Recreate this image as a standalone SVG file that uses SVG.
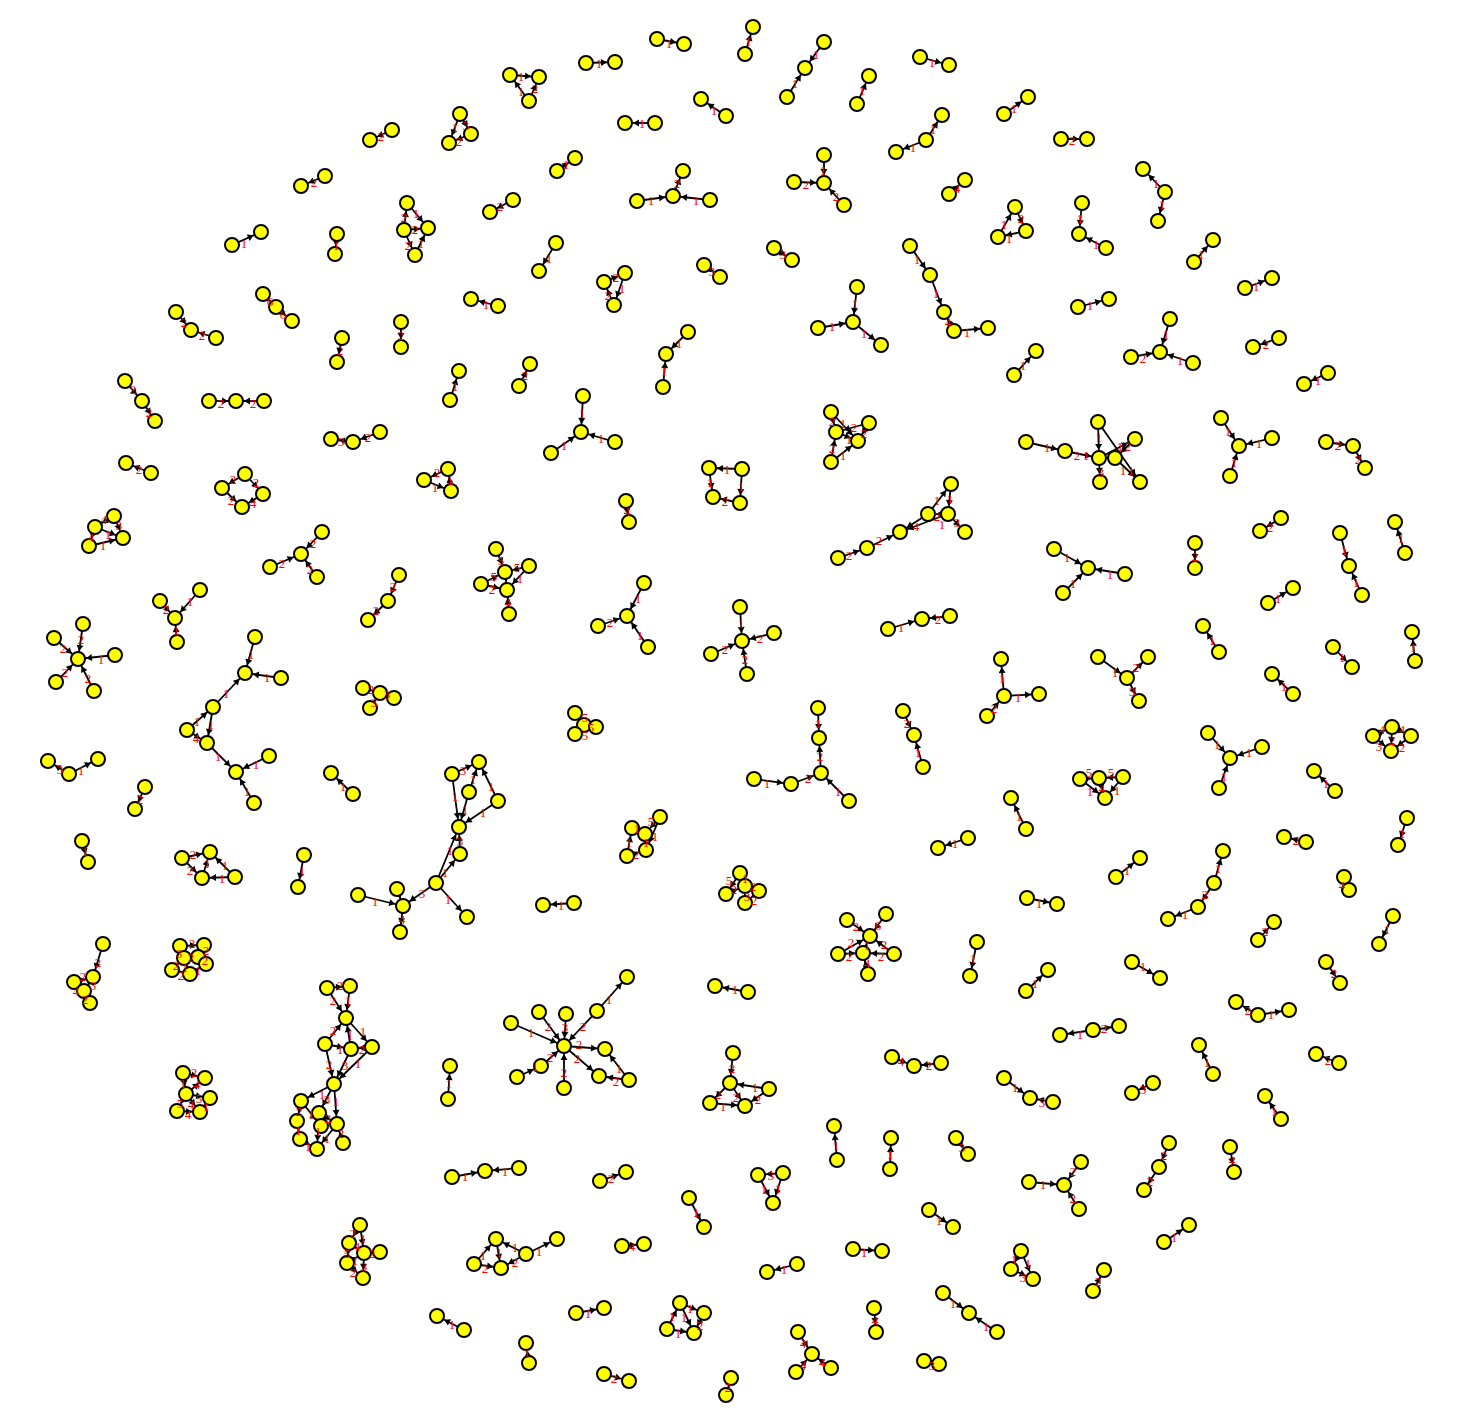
<svg xmlns="http://www.w3.org/2000/svg" width="1469" height="1424" viewBox="0 0 1469 1424">
<style>
#edges line{stroke:#000;stroke-width:1.8;marker-end:url(#ah)}
#nodes circle{fill:#ffff00;stroke:#000;stroke-width:2}
#labels text{font-family:"Liberation Serif",serif;font-size:13px;fill:#ff0000;text-anchor:middle;dominant-baseline:central}
</style>
<defs>
<marker id="ah" markerUnits="userSpaceOnUse" orient="auto" overflow="visible" refX="0" refY="0" markerWidth="1" markerHeight="1"><path d="M-14,-3.5L-8,0L-14,3.5z" fill="#000"/></marker>
</defs>
<rect width="1469" height="1424" fill="#fff"/>
<g id="edges">
<line x1="745" y1="54" x2="753" y2="27"/>
<line x1="657" y1="39" x2="684" y2="44"/>
<line x1="586" y1="63" x2="615" y2="62"/>
<line x1="510" y1="75" x2="539" y2="77"/><line x1="529" y1="101" x2="510" y2="75"/><line x1="529" y1="101" x2="539" y2="77"/>
<line x1="824" y1="42" x2="805" y2="68"/><line x1="787" y1="97" x2="805" y2="68"/>
<line x1="857" y1="104" x2="869" y2="76"/>
<line x1="920" y1="57" x2="949" y2="65"/>
<line x1="926" y1="140" x2="896" y2="152"/><line x1="926" y1="140" x2="942" y2="115"/>
<line x1="1004" y1="114" x2="1028" y2="97"/>
<line x1="1061" y1="139" x2="1087" y2="139"/>
<line x1="726" y1="116" x2="701" y2="99"/>
<line x1="655" y1="123" x2="625" y2="123"/>
<line x1="460" y1="114" x2="449" y2="143"/><line x1="460" y1="114" x2="471" y2="134"/><line x1="471" y1="134" x2="449" y2="143"/>
<line x1="392" y1="130" x2="370" y2="140"/>
<line x1="325" y1="176" x2="301" y2="186"/>
<line x1="557" y1="171" x2="575" y2="158"/>
<line x1="513" y1="200" x2="490" y2="212"/>
<line x1="637" y1="201" x2="673" y2="196"/><line x1="710" y1="200" x2="673" y2="196"/><line x1="673" y1="196" x2="683" y2="171"/>
<line x1="824" y1="155" x2="824" y2="183"/><line x1="794" y1="182" x2="824" y2="183"/><line x1="844" y1="205" x2="824" y2="183"/>
<line x1="949" y1="194" x2="965" y2="180"/>
<line x1="998" y1="237" x2="1015" y2="207"/><line x1="1015" y1="207" x2="1026" y2="231"/><line x1="1026" y1="231" x2="998" y2="237"/>
<line x1="1082" y1="203" x2="1079" y2="234"/><line x1="1106" y1="248" x2="1079" y2="234"/>
<line x1="1165" y1="192" x2="1143" y2="169"/><line x1="1165" y1="192" x2="1158" y2="221"/>
<line x1="1194" y1="262" x2="1213" y2="240"/>
<line x1="1245" y1="288" x2="1272" y2="278"/>
<line x1="1170" y1="319" x2="1160" y2="352"/><line x1="1131" y1="357" x2="1160" y2="352"/><line x1="1193" y1="363" x2="1160" y2="352"/>
<line x1="1279" y1="338" x2="1253" y2="347"/>
<line x1="1328" y1="373" x2="1304" y2="384"/>
<line x1="1026" y1="442" x2="1065" y2="451"/><line x1="1065" y1="451" x2="1099" y2="458"/><line x1="1098" y1="422" x2="1099" y2="458"/><line x1="1098" y1="422" x2="1140" y2="482"/><line x1="1135" y1="439" x2="1115" y2="458"/><line x1="1099" y1="458" x2="1135" y2="439"/><line x1="1115" y1="458" x2="1140" y2="482"/><line x1="1099" y1="458" x2="1100" y2="482"/><line x1="1099" y1="458" x2="1115" y2="458"/>
<line x1="1221" y1="418" x2="1239" y2="446"/><line x1="1272" y1="438" x2="1239" y2="446"/><line x1="1230" y1="476" x2="1239" y2="446"/>
<line x1="1326" y1="442" x2="1353" y2="446"/><line x1="1353" y1="446" x2="1365" y2="468"/>
<line x1="232" y1="245" x2="261" y2="232"/>
<line x1="337" y1="234" x2="335" y2="254"/>
<line x1="407" y1="203" x2="428" y2="228"/><line x1="404" y1="230" x2="407" y2="203"/><line x1="404" y1="230" x2="428" y2="228"/><line x1="415" y1="255" x2="428" y2="228"/><line x1="404" y1="230" x2="415" y2="255"/>
<line x1="263" y1="294" x2="276" y2="307"/><line x1="276" y1="307" x2="292" y2="321"/>
<line x1="176" y1="312" x2="191" y2="330"/><line x1="216" y1="338" x2="191" y2="330"/>
<line x1="342" y1="338" x2="337" y2="362"/>
<line x1="401" y1="322" x2="401" y2="347"/>
<line x1="498" y1="306" x2="471" y2="299"/>
<line x1="125" y1="381" x2="142" y2="401"/><line x1="142" y1="401" x2="155" y2="421"/>
<line x1="209" y1="401" x2="236" y2="401"/><line x1="264" y1="401" x2="236" y2="401"/>
<line x1="353" y1="442" x2="331" y2="439"/><line x1="380" y1="432" x2="353" y2="442"/>
<line x1="151" y1="473" x2="126" y2="463"/>
<line x1="245" y1="474" x2="222" y2="488"/><line x1="245" y1="474" x2="263" y2="494"/><line x1="222" y1="488" x2="242" y2="507"/><line x1="263" y1="494" x2="242" y2="507"/>
<line x1="114" y1="516" x2="95" y2="527"/><line x1="95" y1="527" x2="123" y2="538"/><line x1="114" y1="516" x2="123" y2="538"/><line x1="89" y1="546" x2="123" y2="538"/><line x1="95" y1="527" x2="89" y2="546"/>
<line x1="448" y1="469" x2="424" y2="480"/><line x1="424" y1="480" x2="451" y2="491"/><line x1="451" y1="491" x2="448" y2="469"/>
<line x1="626" y1="501" x2="629" y2="522"/>
<line x1="742" y1="469" x2="709" y2="468"/><line x1="709" y1="468" x2="713" y2="497"/><line x1="742" y1="469" x2="740" y2="503"/><line x1="740" y1="503" x2="713" y2="497"/>
<line x1="583" y1="396" x2="581" y2="432"/><line x1="551" y1="453" x2="581" y2="432"/><line x1="615" y1="442" x2="581" y2="432"/>
<line x1="450" y1="400" x2="459" y2="371"/>
<line x1="519" y1="386" x2="530" y2="364"/>
<line x1="688" y1="332" x2="666" y2="354"/><line x1="663" y1="387" x2="666" y2="354"/>
<line x1="604" y1="282" x2="625" y2="273"/><line x1="625" y1="273" x2="614" y2="305"/><line x1="614" y1="305" x2="604" y2="282"/>
<line x1="556" y1="243" x2="539" y2="271"/>
<line x1="704" y1="265" x2="720" y2="277"/>
<line x1="774" y1="248" x2="792" y2="260"/>
<line x1="857" y1="287" x2="853" y2="322"/><line x1="818" y1="328" x2="853" y2="322"/><line x1="853" y1="322" x2="881" y2="345"/>
<line x1="910" y1="246" x2="930" y2="275"/><line x1="930" y1="275" x2="944" y2="312"/><line x1="954" y1="331" x2="944" y2="312"/><line x1="954" y1="331" x2="988" y2="328"/>
<line x1="1078" y1="307" x2="1109" y2="299"/>
<line x1="1014" y1="375" x2="1036" y2="351"/>
<line x1="831" y1="412" x2="836" y2="432"/><line x1="831" y1="412" x2="858" y2="441"/><line x1="869" y1="423" x2="836" y2="432"/><line x1="869" y1="423" x2="858" y2="441"/><line x1="836" y1="432" x2="858" y2="441"/><line x1="831" y1="462" x2="836" y2="432"/><line x1="831" y1="462" x2="858" y2="441"/>
<line x1="322" y1="532" x2="301" y2="554"/><line x1="270" y1="567" x2="301" y2="554"/><line x1="317" y1="577" x2="301" y2="554"/>
<line x1="399" y1="575" x2="388" y2="601"/><line x1="388" y1="601" x2="368" y2="620"/>
<line x1="200" y1="590" x2="175" y2="618"/><line x1="160" y1="601" x2="175" y2="618"/><line x1="177" y1="642" x2="175" y2="618"/>
<line x1="83" y1="624" x2="78" y2="659"/><line x1="54" y1="638" x2="78" y2="659"/><line x1="115" y1="655" x2="78" y2="659"/><line x1="56" y1="682" x2="78" y2="659"/><line x1="94" y1="691" x2="78" y2="659"/>
<line x1="255" y1="637" x2="245" y2="673"/><line x1="281" y1="678" x2="245" y2="673"/><line x1="213" y1="707" x2="245" y2="673"/><line x1="187" y1="730" x2="213" y2="707"/><line x1="213" y1="707" x2="207" y2="743"/><line x1="187" y1="730" x2="207" y2="743"/><line x1="207" y1="743" x2="236" y2="772"/><line x1="269" y1="756" x2="236" y2="772"/><line x1="254" y1="803" x2="236" y2="772"/>
<line x1="69" y1="774" x2="48" y2="761"/><line x1="69" y1="774" x2="98" y2="759"/>
<line x1="145" y1="787" x2="135" y2="809"/>
<line x1="82" y1="841" x2="88" y2="862"/>
<line x1="353" y1="794" x2="331" y2="773"/>
<line x1="182" y1="858" x2="210" y2="852"/><line x1="182" y1="858" x2="202" y2="878"/><line x1="202" y1="878" x2="210" y2="852"/><line x1="235" y1="877" x2="202" y2="878"/><line x1="235" y1="877" x2="210" y2="852"/>
<line x1="304" y1="855" x2="298" y2="887"/>
<line x1="496" y1="549" x2="505" y2="572"/><line x1="529" y1="566" x2="505" y2="572"/><line x1="481" y1="584" x2="505" y2="572"/><line x1="481" y1="584" x2="507" y2="590"/><line x1="529" y1="566" x2="507" y2="590"/><line x1="509" y1="614" x2="507" y2="590"/><line x1="505" y1="572" x2="507" y2="590"/>
<line x1="644" y1="583" x2="627" y2="616"/><line x1="598" y1="626" x2="627" y2="616"/><line x1="648" y1="647" x2="627" y2="616"/>
<line x1="363" y1="688" x2="380" y2="693"/><line x1="394" y1="698" x2="380" y2="693"/><line x1="370" y1="708" x2="380" y2="693"/>
<line x1="575" y1="713" x2="584" y2="725"/><line x1="596" y1="727" x2="584" y2="725"/><line x1="575" y1="734" x2="584" y2="725"/>
<line x1="452" y1="774" x2="479" y2="762"/><line x1="452" y1="774" x2="459" y2="827"/><line x1="469" y1="792" x2="479" y2="762"/><line x1="498" y1="801" x2="479" y2="762"/><line x1="469" y1="792" x2="459" y2="827"/><line x1="498" y1="801" x2="459" y2="827"/><line x1="460" y1="854" x2="459" y2="827"/><line x1="436" y1="883" x2="459" y2="827"/><line x1="436" y1="883" x2="460" y2="854"/><line x1="436" y1="883" x2="467" y2="917"/><line x1="436" y1="883" x2="403" y2="906"/><line x1="358" y1="895" x2="403" y2="906"/><line x1="397" y1="889" x2="403" y2="906"/><line x1="403" y1="906" x2="400" y2="932"/>
<line x1="574" y1="903" x2="543" y2="905"/>
<line x1="632" y1="828" x2="645" y2="834"/><line x1="660" y1="817" x2="645" y2="834"/><line x1="660" y1="817" x2="646" y2="850"/><line x1="627" y1="856" x2="632" y2="828"/><line x1="627" y1="856" x2="646" y2="850"/><line x1="645" y1="834" x2="646" y2="850"/>
<line x1="740" y1="873" x2="745" y2="886"/><line x1="726" y1="894" x2="745" y2="886"/><line x1="745" y1="886" x2="759" y2="891"/><line x1="745" y1="886" x2="745" y2="903"/><line x1="740" y1="873" x2="726" y2="894"/><line x1="759" y1="891" x2="745" y2="903"/>
<line x1="740" y1="607" x2="742" y2="641"/><line x1="774" y1="633" x2="742" y2="641"/><line x1="747" y1="674" x2="742" y2="641"/><line x1="711" y1="654" x2="742" y2="641"/>
<line x1="928" y1="514" x2="951" y2="484"/><line x1="951" y1="484" x2="948" y2="514"/><line x1="948" y1="514" x2="928" y2="514"/><line x1="948" y1="514" x2="965" y2="532"/><line x1="948" y1="514" x2="900" y2="532"/><line x1="928" y1="514" x2="900" y2="532"/><line x1="867" y1="548" x2="900" y2="532"/><line x1="838" y1="558" x2="867" y2="548"/>
<line x1="888" y1="629" x2="922" y2="619"/><line x1="950" y1="616" x2="922" y2="619"/>
<line x1="818" y1="708" x2="819" y2="738"/><line x1="821" y1="773" x2="819" y2="738"/><line x1="791" y1="784" x2="821" y2="773"/><line x1="754" y1="779" x2="791" y2="784"/><line x1="849" y1="801" x2="821" y2="773"/>
<line x1="903" y1="711" x2="914" y2="735"/><line x1="923" y1="767" x2="914" y2="735"/>
<line x1="1004" y1="696" x2="1001" y2="659"/><line x1="1004" y1="696" x2="1039" y2="694"/><line x1="987" y1="716" x2="1004" y2="696"/>
<line x1="1026" y1="829" x2="1011" y2="798"/>
<line x1="968" y1="838" x2="938" y2="848"/>
<line x1="1027" y1="898" x2="1057" y2="904"/>
<line x1="1054" y1="549" x2="1088" y2="568"/><line x1="1063" y1="593" x2="1088" y2="568"/><line x1="1125" y1="574" x2="1088" y2="568"/>
<line x1="1195" y1="543" x2="1195" y2="568"/>
<line x1="1281" y1="518" x2="1260" y2="531"/>
<line x1="1340" y1="533" x2="1349" y2="566"/><line x1="1362" y1="595" x2="1349" y2="566"/>
<line x1="1405" y1="553" x2="1395" y2="522"/>
<line x1="1268" y1="603" x2="1293" y2="588"/>
<line x1="1219" y1="652" x2="1203" y2="626"/>
<line x1="1333" y1="647" x2="1352" y2="667"/>
<line x1="1415" y1="661" x2="1412" y2="632"/>
<line x1="1098" y1="657" x2="1127" y2="678"/><line x1="1127" y1="678" x2="1148" y2="657"/><line x1="1127" y1="678" x2="1139" y2="701"/>
<line x1="1293" y1="694" x2="1272" y2="674"/>
<line x1="1208" y1="733" x2="1230" y2="758"/><line x1="1262" y1="747" x2="1230" y2="758"/><line x1="1219" y1="788" x2="1230" y2="758"/>
<line x1="1373" y1="736" x2="1392" y2="727"/><line x1="1392" y1="727" x2="1411" y2="736"/><line x1="1373" y1="736" x2="1391" y2="751"/><line x1="1392" y1="727" x2="1391" y2="751"/><line x1="1411" y1="736" x2="1391" y2="751"/>
<line x1="1335" y1="791" x2="1314" y2="771"/>
<line x1="1407" y1="818" x2="1398" y2="845"/>
<line x1="1080" y1="779" x2="1099" y2="778"/><line x1="1123" y1="777" x2="1099" y2="778"/><line x1="1080" y1="779" x2="1105" y2="798"/><line x1="1123" y1="777" x2="1105" y2="798"/><line x1="1099" y1="778" x2="1105" y2="798"/>
<line x1="1306" y1="842" x2="1284" y2="837"/>
<line x1="1344" y1="877" x2="1349" y2="890"/>
<line x1="1116" y1="877" x2="1140" y2="858"/>
<line x1="1198" y1="907" x2="1168" y2="919"/><line x1="1214" y1="883" x2="1198" y2="907"/><line x1="1214" y1="883" x2="1223" y2="851"/>
<line x1="1258" y1="940" x2="1274" y2="922"/>
<line x1="1393" y1="916" x2="1379" y2="944"/>
<line x1="847" y1="920" x2="870" y2="936"/><line x1="886" y1="914" x2="870" y2="936"/><line x1="838" y1="954" x2="870" y2="936"/><line x1="863" y1="953" x2="870" y2="936"/><line x1="894" y1="954" x2="870" y2="936"/><line x1="868" y1="974" x2="863" y2="953"/><line x1="838" y1="954" x2="863" y2="953"/><line x1="894" y1="954" x2="863" y2="953"/>
<line x1="977" y1="942" x2="970" y2="976"/>
<line x1="1026" y1="991" x2="1048" y2="970"/>
<line x1="1132" y1="962" x2="1160" y2="978"/>
<line x1="1326" y1="962" x2="1340" y2="983"/>
<line x1="1258" y1="1015" x2="1236" y2="1002"/><line x1="1258" y1="1015" x2="1289" y2="1010"/>
<line x1="1093" y1="1030" x2="1060" y2="1035"/><line x1="1093" y1="1030" x2="1119" y2="1026"/>
<line x1="1213" y1="1074" x2="1199" y2="1045"/>
<line x1="1153" y1="1083" x2="1132" y2="1093"/>
<line x1="1339" y1="1063" x2="1316" y2="1054"/>
<line x1="1281" y1="1119" x2="1265" y2="1096"/>
<line x1="1004" y1="1078" x2="1030" y2="1098"/><line x1="1053" y1="1102" x2="1030" y2="1098"/>
<line x1="892" y1="1057" x2="914" y2="1066"/><line x1="941" y1="1063" x2="914" y2="1066"/>
<line x1="1081" y1="1162" x2="1064" y2="1185"/><line x1="1029" y1="1182" x2="1064" y2="1185"/><line x1="1079" y1="1209" x2="1064" y2="1185"/>
<line x1="837" y1="1160" x2="834" y2="1126"/>
<line x1="890" y1="1169" x2="891" y2="1138"/>
<line x1="956" y1="1138" x2="968" y2="1154"/>
<line x1="783" y1="1173" x2="758" y2="1175"/><line x1="758" y1="1175" x2="773" y2="1203"/><line x1="783" y1="1173" x2="773" y2="1203"/>
<line x1="929" y1="1210" x2="953" y2="1227"/>
<line x1="853" y1="1249" x2="882" y2="1251"/>
<line x1="797" y1="1264" x2="767" y2="1272"/>
<line x1="1021" y1="1251" x2="1033" y2="1279"/><line x1="1011" y1="1269" x2="1033" y2="1279"/><line x1="1021" y1="1251" x2="1011" y2="1269"/>
<line x1="1093" y1="1291" x2="1104" y2="1270"/>
<line x1="943" y1="1293" x2="969" y2="1313"/><line x1="997" y1="1332" x2="969" y2="1313"/>
<line x1="874" y1="1308" x2="876" y2="1332"/>
<line x1="798" y1="1332" x2="812" y2="1354"/><line x1="831" y1="1368" x2="812" y2="1354"/><line x1="796" y1="1372" x2="812" y2="1354"/>
<line x1="924" y1="1361" x2="939" y2="1364"/>
<line x1="1164" y1="1242" x2="1189" y2="1225"/>
<line x1="1230" y1="1147" x2="1234" y2="1172"/>
<line x1="1159" y1="1167" x2="1144" y2="1190"/><line x1="1169" y1="1143" x2="1159" y2="1167"/>
<line x1="103" y1="944" x2="93" y2="977"/><line x1="74" y1="982" x2="93" y2="977"/><line x1="74" y1="982" x2="84" y2="991"/><line x1="93" y1="977" x2="84" y2="991"/><line x1="84" y1="991" x2="90" y2="1003"/>
<line x1="180" y1="946" x2="204" y2="945"/><line x1="180" y1="946" x2="184" y2="958"/><line x1="198" y1="957" x2="204" y2="945"/><line x1="184" y1="958" x2="198" y2="957"/><line x1="184" y1="958" x2="172" y2="970"/><line x1="184" y1="958" x2="190" y2="974"/><line x1="198" y1="957" x2="206" y2="964"/><line x1="172" y1="970" x2="190" y2="974"/><line x1="190" y1="974" x2="206" y2="964"/>
<line x1="327" y1="988" x2="346" y2="1018"/><line x1="350" y1="986" x2="346" y2="1018"/><line x1="327" y1="988" x2="350" y2="986"/><line x1="325" y1="1044" x2="346" y2="1018"/><line x1="346" y1="1018" x2="372" y2="1047"/><line x1="325" y1="1044" x2="351" y2="1049"/><line x1="351" y1="1049" x2="346" y2="1018"/><line x1="372" y1="1047" x2="351" y2="1049"/><line x1="325" y1="1044" x2="334" y2="1084"/><line x1="351" y1="1049" x2="334" y2="1084"/><line x1="372" y1="1047" x2="334" y2="1084"/><line x1="334" y1="1084" x2="301" y2="1101"/><line x1="334" y1="1084" x2="319" y2="1113"/><line x1="334" y1="1084" x2="337" y2="1124"/><line x1="301" y1="1101" x2="297" y2="1121"/><line x1="301" y1="1101" x2="321" y2="1126"/><line x1="297" y1="1121" x2="300" y2="1139"/><line x1="319" y1="1113" x2="317" y2="1149"/><line x1="300" y1="1139" x2="317" y2="1149"/><line x1="343" y1="1143" x2="337" y2="1124"/><line x1="337" y1="1124" x2="317" y2="1149"/><line x1="319" y1="1113" x2="337" y2="1124"/>
<line x1="183" y1="1073" x2="205" y2="1078"/><line x1="183" y1="1073" x2="186" y2="1094"/><line x1="186" y1="1094" x2="205" y2="1078"/><line x1="186" y1="1094" x2="210" y2="1098"/><line x1="186" y1="1094" x2="177" y2="1111"/><line x1="186" y1="1094" x2="200" y2="1112"/><line x1="210" y1="1098" x2="200" y2="1112"/><line x1="177" y1="1111" x2="200" y2="1112"/>
<line x1="360" y1="1225" x2="349" y2="1243"/><line x1="360" y1="1225" x2="364" y2="1253"/><line x1="349" y1="1243" x2="364" y2="1253"/><line x1="349" y1="1243" x2="347" y2="1263"/><line x1="347" y1="1263" x2="364" y2="1253"/><line x1="364" y1="1253" x2="363" y2="1278"/><line x1="380" y1="1252" x2="364" y2="1253"/><line x1="347" y1="1263" x2="363" y2="1278"/>
<line x1="511" y1="1023" x2="564" y2="1046"/><line x1="539" y1="1012" x2="564" y2="1046"/><line x1="566" y1="1014" x2="564" y2="1046"/><line x1="597" y1="1011" x2="564" y2="1046"/><line x1="597" y1="1011" x2="627" y2="977"/><line x1="564" y1="1046" x2="605" y2="1049"/><line x1="564" y1="1046" x2="599" y2="1076"/><line x1="629" y1="1080" x2="605" y2="1049"/><line x1="629" y1="1080" x2="599" y2="1076"/><line x1="564" y1="1088" x2="564" y2="1046"/><line x1="541" y1="1066" x2="564" y2="1046"/><line x1="517" y1="1077" x2="541" y2="1066"/>
<line x1="448" y1="1099" x2="450" y2="1066"/>
<line x1="452" y1="1177" x2="485" y2="1171"/><line x1="519" y1="1168" x2="485" y2="1171"/>
<line x1="600" y1="1181" x2="626" y2="1172"/>
<line x1="689" y1="1198" x2="704" y2="1227"/>
<line x1="474" y1="1264" x2="496" y2="1239"/><line x1="496" y1="1239" x2="501" y2="1268"/><line x1="474" y1="1264" x2="501" y2="1268"/><line x1="526" y1="1254" x2="496" y2="1239"/><line x1="526" y1="1254" x2="501" y2="1268"/><line x1="526" y1="1254" x2="557" y2="1239"/>
<line x1="622" y1="1246" x2="644" y2="1244"/>
<line x1="464" y1="1330" x2="437" y2="1316"/>
<line x1="576" y1="1313" x2="604" y2="1308"/>
<line x1="529" y1="1363" x2="526" y2="1343"/>
<line x1="604" y1="1374" x2="629" y2="1381"/>
<line x1="731" y1="1378" x2="726" y2="1395"/>
<line x1="680" y1="1303" x2="704" y2="1313"/><line x1="667" y1="1329" x2="680" y2="1303"/><line x1="680" y1="1303" x2="694" y2="1333"/><line x1="667" y1="1329" x2="694" y2="1333"/><line x1="704" y1="1313" x2="694" y2="1333"/>
<line x1="733" y1="1053" x2="730" y2="1083"/><line x1="730" y1="1083" x2="710" y2="1103"/><line x1="710" y1="1103" x2="745" y2="1106"/><line x1="769" y1="1089" x2="730" y2="1083"/><line x1="769" y1="1089" x2="745" y2="1106"/><line x1="730" y1="1083" x2="745" y2="1106"/>
<line x1="748" y1="992" x2="715" y2="986"/>
</g>
<g id="nodes">
<g id="n1"><circle cx="753" cy="27" r="7"/></g><g id="n2"><circle cx="745" cy="54" r="7"/></g>
<g id="n3"><circle cx="657" cy="39" r="7"/></g><g id="n4"><circle cx="684" cy="44" r="7"/></g>
<g id="n5"><circle cx="586" cy="63" r="7"/></g><g id="n6"><circle cx="615" cy="62" r="7"/></g>
<g id="n7"><circle cx="510" cy="75" r="7"/></g><g id="n8"><circle cx="539" cy="77" r="7"/></g><g id="n9"><circle cx="529" cy="101" r="7"/></g>
<g id="n10"><circle cx="824" cy="42" r="7"/></g><g id="n11"><circle cx="805" cy="68" r="7"/></g><g id="n12"><circle cx="787" cy="97" r="7"/></g>
<g id="n13"><circle cx="869" cy="76" r="7"/></g><g id="n14"><circle cx="857" cy="104" r="7"/></g>
<g id="n15"><circle cx="920" cy="57" r="7"/></g><g id="n16"><circle cx="949" cy="65" r="7"/></g>
<g id="n17"><circle cx="896" cy="152" r="7"/></g><g id="n18"><circle cx="926" cy="140" r="7"/></g><g id="n19"><circle cx="942" cy="115" r="7"/></g>
<g id="n20"><circle cx="1004" cy="114" r="7"/></g><g id="n21"><circle cx="1028" cy="97" r="7"/></g>
<g id="n22"><circle cx="1061" cy="139" r="7"/></g><g id="n23"><circle cx="1087" cy="139" r="7"/></g>
<g id="n24"><circle cx="701" cy="99" r="7"/></g><g id="n25"><circle cx="726" cy="116" r="7"/></g>
<g id="n26"><circle cx="625" cy="123" r="7"/></g><g id="n27"><circle cx="655" cy="123" r="7"/></g>
<g id="n28"><circle cx="460" cy="114" r="7"/></g><g id="n29"><circle cx="449" cy="143" r="7"/></g><g id="n30"><circle cx="471" cy="134" r="7"/></g>
<g id="n31"><circle cx="370" cy="140" r="7"/></g><g id="n32"><circle cx="392" cy="130" r="7"/></g>
<g id="n33"><circle cx="301" cy="186" r="7"/></g><g id="n34"><circle cx="325" cy="176" r="7"/></g>
<g id="n35"><circle cx="557" cy="171" r="7"/></g><g id="n36"><circle cx="575" cy="158" r="7"/></g>
<g id="n37"><circle cx="490" cy="212" r="7"/></g><g id="n38"><circle cx="513" cy="200" r="7"/></g>
<g id="n39"><circle cx="683" cy="171" r="7"/></g><g id="n40"><circle cx="673" cy="196" r="7"/></g><g id="n41"><circle cx="637" cy="201" r="7"/></g><g id="n42"><circle cx="710" cy="200" r="7"/></g>
<g id="n43"><circle cx="824" cy="155" r="7"/></g><g id="n44"><circle cx="824" cy="183" r="7"/></g><g id="n45"><circle cx="794" cy="182" r="7"/></g><g id="n46"><circle cx="844" cy="205" r="7"/></g>
<g id="n47"><circle cx="949" cy="194" r="7"/></g><g id="n48"><circle cx="965" cy="180" r="7"/></g>
<g id="n49"><circle cx="1015" cy="207" r="7"/></g><g id="n50"><circle cx="998" cy="237" r="7"/></g><g id="n51"><circle cx="1026" cy="231" r="7"/></g>
<g id="n52"><circle cx="1082" cy="203" r="7"/></g><g id="n53"><circle cx="1079" cy="234" r="7"/></g><g id="n54"><circle cx="1106" cy="248" r="7"/></g>
<g id="n55"><circle cx="1143" cy="169" r="7"/></g><g id="n56"><circle cx="1165" cy="192" r="7"/></g><g id="n57"><circle cx="1158" cy="221" r="7"/></g>
<g id="n58"><circle cx="1194" cy="262" r="7"/></g><g id="n59"><circle cx="1213" cy="240" r="7"/></g>
<g id="n60"><circle cx="1245" cy="288" r="7"/></g><g id="n61"><circle cx="1272" cy="278" r="7"/></g>
<g id="n62"><circle cx="1170" cy="319" r="7"/></g><g id="n63"><circle cx="1160" cy="352" r="7"/></g><g id="n64"><circle cx="1131" cy="357" r="7"/></g><g id="n65"><circle cx="1193" cy="363" r="7"/></g>
<g id="n66"><circle cx="1253" cy="347" r="7"/></g><g id="n67"><circle cx="1279" cy="338" r="7"/></g>
<g id="n68"><circle cx="1304" cy="384" r="7"/></g><g id="n69"><circle cx="1328" cy="373" r="7"/></g>
<g id="n70"><circle cx="1026" cy="442" r="7"/></g><g id="n71"><circle cx="1065" cy="451" r="7"/></g><g id="n72"><circle cx="1099" cy="458" r="7"/></g><g id="n73"><circle cx="1098" cy="422" r="7"/></g><g id="n74"><circle cx="1135" cy="439" r="7"/></g><g id="n75"><circle cx="1115" cy="458" r="7"/></g><g id="n76"><circle cx="1100" cy="482" r="7"/></g><g id="n77"><circle cx="1140" cy="482" r="7"/></g>
<g id="n78"><circle cx="1221" cy="418" r="7"/></g><g id="n79"><circle cx="1239" cy="446" r="7"/></g><g id="n80"><circle cx="1272" cy="438" r="7"/></g><g id="n81"><circle cx="1230" cy="476" r="7"/></g>
<g id="n82"><circle cx="1326" cy="442" r="7"/></g><g id="n83"><circle cx="1353" cy="446" r="7"/></g><g id="n84"><circle cx="1365" cy="468" r="7"/></g>
<g id="n85"><circle cx="232" cy="245" r="7"/></g><g id="n86"><circle cx="261" cy="232" r="7"/></g>
<g id="n87"><circle cx="337" cy="234" r="7"/></g><g id="n88"><circle cx="335" cy="254" r="7"/></g>
<g id="n89"><circle cx="407" cy="203" r="7"/></g><g id="n90"><circle cx="404" cy="230" r="7"/></g><g id="n91"><circle cx="428" cy="228" r="7"/></g><g id="n92"><circle cx="415" cy="255" r="7"/></g>
<g id="n93"><circle cx="263" cy="294" r="7"/></g><g id="n94"><circle cx="276" cy="307" r="7"/></g><g id="n95"><circle cx="292" cy="321" r="7"/></g>
<g id="n96"><circle cx="176" cy="312" r="7"/></g><g id="n97"><circle cx="191" cy="330" r="7"/></g><g id="n98"><circle cx="216" cy="338" r="7"/></g>
<g id="n99"><circle cx="342" cy="338" r="7"/></g><g id="n100"><circle cx="337" cy="362" r="7"/></g>
<g id="n101"><circle cx="401" cy="322" r="7"/></g><g id="n102"><circle cx="401" cy="347" r="7"/></g>
<g id="n103"><circle cx="471" cy="299" r="7"/></g><g id="n104"><circle cx="498" cy="306" r="7"/></g>
<g id="n105"><circle cx="125" cy="381" r="7"/></g><g id="n106"><circle cx="142" cy="401" r="7"/></g><g id="n107"><circle cx="155" cy="421" r="7"/></g>
<g id="n108"><circle cx="209" cy="401" r="7"/></g><g id="n109"><circle cx="236" cy="401" r="7"/></g><g id="n110"><circle cx="264" cy="401" r="7"/></g>
<g id="n111"><circle cx="331" cy="439" r="7"/></g><g id="n112"><circle cx="353" cy="442" r="7"/></g><g id="n113"><circle cx="380" cy="432" r="7"/></g>
<g id="n114"><circle cx="126" cy="463" r="7"/></g><g id="n115"><circle cx="151" cy="473" r="7"/></g>
<g id="n116"><circle cx="222" cy="488" r="7"/></g><g id="n117"><circle cx="245" cy="474" r="7"/></g><g id="n118"><circle cx="263" cy="494" r="7"/></g><g id="n119"><circle cx="242" cy="507" r="7"/></g>
<g id="n120"><circle cx="95" cy="527" r="7"/></g><g id="n121"><circle cx="114" cy="516" r="7"/></g><g id="n122"><circle cx="123" cy="538" r="7"/></g><g id="n123"><circle cx="89" cy="546" r="7"/></g>
<g id="n124"><circle cx="424" cy="480" r="7"/></g><g id="n125"><circle cx="448" cy="469" r="7"/></g><g id="n126"><circle cx="451" cy="491" r="7"/></g>
<g id="n127"><circle cx="626" cy="501" r="7"/></g><g id="n128"><circle cx="629" cy="522" r="7"/></g>
<g id="n129"><circle cx="709" cy="468" r="7"/></g><g id="n130"><circle cx="742" cy="469" r="7"/></g><g id="n131"><circle cx="713" cy="497" r="7"/></g><g id="n132"><circle cx="740" cy="503" r="7"/></g>
<g id="n133"><circle cx="583" cy="396" r="7"/></g><g id="n134"><circle cx="581" cy="432" r="7"/></g><g id="n135"><circle cx="551" cy="453" r="7"/></g><g id="n136"><circle cx="615" cy="442" r="7"/></g>
<g id="n137"><circle cx="459" cy="371" r="7"/></g><g id="n138"><circle cx="450" cy="400" r="7"/></g>
<g id="n139"><circle cx="530" cy="364" r="7"/></g><g id="n140"><circle cx="519" cy="386" r="7"/></g>
<g id="n141"><circle cx="688" cy="332" r="7"/></g><g id="n142"><circle cx="666" cy="354" r="7"/></g><g id="n143"><circle cx="663" cy="387" r="7"/></g>
<g id="n144"><circle cx="604" cy="282" r="7"/></g><g id="n145"><circle cx="625" cy="273" r="7"/></g><g id="n146"><circle cx="614" cy="305" r="7"/></g>
<g id="n147"><circle cx="556" cy="243" r="7"/></g><g id="n148"><circle cx="539" cy="271" r="7"/></g>
<g id="n149"><circle cx="704" cy="265" r="7"/></g><g id="n150"><circle cx="720" cy="277" r="7"/></g>
<g id="n151"><circle cx="774" cy="248" r="7"/></g><g id="n152"><circle cx="792" cy="260" r="7"/></g>
<g id="n153"><circle cx="857" cy="287" r="7"/></g><g id="n154"><circle cx="853" cy="322" r="7"/></g><g id="n155"><circle cx="818" cy="328" r="7"/></g><g id="n156"><circle cx="881" cy="345" r="7"/></g>
<g id="n157"><circle cx="910" cy="246" r="7"/></g><g id="n158"><circle cx="930" cy="275" r="7"/></g><g id="n159"><circle cx="944" cy="312" r="7"/></g><g id="n160"><circle cx="954" cy="331" r="7"/></g><g id="n161"><circle cx="988" cy="328" r="7"/></g>
<g id="n162"><circle cx="1078" cy="307" r="7"/></g><g id="n163"><circle cx="1109" cy="299" r="7"/></g>
<g id="n164"><circle cx="1036" cy="351" r="7"/></g><g id="n165"><circle cx="1014" cy="375" r="7"/></g>
<g id="n166"><circle cx="831" cy="412" r="7"/></g><g id="n167"><circle cx="869" cy="423" r="7"/></g><g id="n168"><circle cx="836" cy="432" r="7"/></g><g id="n169"><circle cx="858" cy="441" r="7"/></g><g id="n170"><circle cx="831" cy="462" r="7"/></g>
<g id="n171"><circle cx="322" cy="532" r="7"/></g><g id="n172"><circle cx="301" cy="554" r="7"/></g><g id="n173"><circle cx="270" cy="567" r="7"/></g><g id="n174"><circle cx="317" cy="577" r="7"/></g>
<g id="n175"><circle cx="399" cy="575" r="7"/></g><g id="n176"><circle cx="388" cy="601" r="7"/></g><g id="n177"><circle cx="368" cy="620" r="7"/></g>
<g id="n178"><circle cx="160" cy="601" r="7"/></g><g id="n179"><circle cx="200" cy="590" r="7"/></g><g id="n180"><circle cx="175" cy="618" r="7"/></g><g id="n181"><circle cx="177" cy="642" r="7"/></g>
<g id="n182"><circle cx="83" cy="624" r="7"/></g><g id="n183"><circle cx="54" cy="638" r="7"/></g><g id="n184"><circle cx="78" cy="659" r="7"/></g><g id="n185"><circle cx="115" cy="655" r="7"/></g><g id="n186"><circle cx="56" cy="682" r="7"/></g><g id="n187"><circle cx="94" cy="691" r="7"/></g>
<g id="n188"><circle cx="255" cy="637" r="7"/></g><g id="n189"><circle cx="245" cy="673" r="7"/></g><g id="n190"><circle cx="281" cy="678" r="7"/></g><g id="n191"><circle cx="213" cy="707" r="7"/></g><g id="n192"><circle cx="187" cy="730" r="7"/></g><g id="n193"><circle cx="207" cy="743" r="7"/></g><g id="n194"><circle cx="236" cy="772" r="7"/></g><g id="n195"><circle cx="269" cy="756" r="7"/></g><g id="n196"><circle cx="254" cy="803" r="7"/></g>
<g id="n197"><circle cx="48" cy="761" r="7"/></g><g id="n198"><circle cx="69" cy="774" r="7"/></g><g id="n199"><circle cx="98" cy="759" r="7"/></g>
<g id="n200"><circle cx="145" cy="787" r="7"/></g><g id="n201"><circle cx="135" cy="809" r="7"/></g>
<g id="n202"><circle cx="82" cy="841" r="7"/></g><g id="n203"><circle cx="88" cy="862" r="7"/></g>
<g id="n204"><circle cx="331" cy="773" r="7"/></g><g id="n205"><circle cx="353" cy="794" r="7"/></g>
<g id="n206"><circle cx="182" cy="858" r="7"/></g><g id="n207"><circle cx="210" cy="852" r="7"/></g><g id="n208"><circle cx="202" cy="878" r="7"/></g><g id="n209"><circle cx="235" cy="877" r="7"/></g>
<g id="n210"><circle cx="304" cy="855" r="7"/></g><g id="n211"><circle cx="298" cy="887" r="7"/></g>
<g id="n212"><circle cx="496" cy="549" r="7"/></g><g id="n213"><circle cx="529" cy="566" r="7"/></g><g id="n214"><circle cx="505" cy="572" r="7"/></g><g id="n215"><circle cx="481" cy="584" r="7"/></g><g id="n216"><circle cx="507" cy="590" r="7"/></g><g id="n217"><circle cx="509" cy="614" r="7"/></g>
<g id="n218"><circle cx="644" cy="583" r="7"/></g><g id="n219"><circle cx="627" cy="616" r="7"/></g><g id="n220"><circle cx="598" cy="626" r="7"/></g><g id="n221"><circle cx="648" cy="647" r="7"/></g>
<g id="n222"><circle cx="363" cy="688" r="7"/></g><g id="n223"><circle cx="380" cy="693" r="7"/></g><g id="n224"><circle cx="394" cy="698" r="7"/></g><g id="n225"><circle cx="370" cy="708" r="7"/></g>
<g id="n226"><circle cx="575" cy="713" r="7"/></g><g id="n227"><circle cx="584" cy="725" r="7"/></g><g id="n228"><circle cx="596" cy="727" r="7"/></g><g id="n229"><circle cx="575" cy="734" r="7"/></g>
<g id="n230"><circle cx="452" cy="774" r="7"/></g><g id="n231"><circle cx="479" cy="762" r="7"/></g><g id="n232"><circle cx="469" cy="792" r="7"/></g><g id="n233"><circle cx="498" cy="801" r="7"/></g><g id="n234"><circle cx="459" cy="827" r="7"/></g><g id="n235"><circle cx="460" cy="854" r="7"/></g><g id="n236"><circle cx="436" cy="883" r="7"/></g><g id="n237"><circle cx="397" cy="889" r="7"/></g><g id="n238"><circle cx="358" cy="895" r="7"/></g><g id="n239"><circle cx="403" cy="906" r="7"/></g><g id="n240"><circle cx="400" cy="932" r="7"/></g><g id="n241"><circle cx="467" cy="917" r="7"/></g>
<g id="n242"><circle cx="543" cy="905" r="7"/></g><g id="n243"><circle cx="574" cy="903" r="7"/></g>
<g id="n244"><circle cx="632" cy="828" r="7"/></g><g id="n245"><circle cx="660" cy="817" r="7"/></g><g id="n246"><circle cx="645" cy="834" r="7"/></g><g id="n247"><circle cx="627" cy="856" r="7"/></g><g id="n248"><circle cx="646" cy="850" r="7"/></g>
<g id="n249"><circle cx="740" cy="873" r="7"/></g><g id="n250"><circle cx="726" cy="894" r="7"/></g><g id="n251"><circle cx="745" cy="886" r="7"/></g><g id="n252"><circle cx="759" cy="891" r="7"/></g><g id="n253"><circle cx="745" cy="903" r="7"/></g>
<g id="n254"><circle cx="740" cy="607" r="7"/></g><g id="n255"><circle cx="742" cy="641" r="7"/></g><g id="n256"><circle cx="774" cy="633" r="7"/></g><g id="n257"><circle cx="747" cy="674" r="7"/></g><g id="n258"><circle cx="711" cy="654" r="7"/></g>
<g id="n259"><circle cx="951" cy="484" r="7"/></g><g id="n260"><circle cx="948" cy="514" r="7"/></g><g id="n261"><circle cx="928" cy="514" r="7"/></g><g id="n262"><circle cx="965" cy="532" r="7"/></g><g id="n263"><circle cx="900" cy="532" r="7"/></g><g id="n264"><circle cx="867" cy="548" r="7"/></g><g id="n265"><circle cx="838" cy="558" r="7"/></g>
<g id="n266"><circle cx="888" cy="629" r="7"/></g><g id="n267"><circle cx="922" cy="619" r="7"/></g><g id="n268"><circle cx="950" cy="616" r="7"/></g>
<g id="n269"><circle cx="818" cy="708" r="7"/></g><g id="n270"><circle cx="819" cy="738" r="7"/></g><g id="n271"><circle cx="821" cy="773" r="7"/></g><g id="n272"><circle cx="791" cy="784" r="7"/></g><g id="n273"><circle cx="754" cy="779" r="7"/></g><g id="n274"><circle cx="849" cy="801" r="7"/></g>
<g id="n275"><circle cx="903" cy="711" r="7"/></g><g id="n276"><circle cx="914" cy="735" r="7"/></g><g id="n277"><circle cx="923" cy="767" r="7"/></g>
<g id="n278"><circle cx="1001" cy="659" r="7"/></g><g id="n279"><circle cx="1004" cy="696" r="7"/></g><g id="n280"><circle cx="1039" cy="694" r="7"/></g><g id="n281"><circle cx="987" cy="716" r="7"/></g>
<g id="n282"><circle cx="1011" cy="798" r="7"/></g><g id="n283"><circle cx="1026" cy="829" r="7"/></g>
<g id="n284"><circle cx="938" cy="848" r="7"/></g><g id="n285"><circle cx="968" cy="838" r="7"/></g>
<g id="n286"><circle cx="1027" cy="898" r="7"/></g><g id="n287"><circle cx="1057" cy="904" r="7"/></g>
<g id="n288"><circle cx="1054" cy="549" r="7"/></g><g id="n289"><circle cx="1088" cy="568" r="7"/></g><g id="n290"><circle cx="1063" cy="593" r="7"/></g><g id="n291"><circle cx="1125" cy="574" r="7"/></g>
<g id="n292"><circle cx="1195" cy="543" r="7"/></g><g id="n293"><circle cx="1195" cy="568" r="7"/></g>
<g id="n294"><circle cx="1260" cy="531" r="7"/></g><g id="n295"><circle cx="1281" cy="518" r="7"/></g>
<g id="n296"><circle cx="1340" cy="533" r="7"/></g><g id="n297"><circle cx="1349" cy="566" r="7"/></g><g id="n298"><circle cx="1362" cy="595" r="7"/></g>
<g id="n299"><circle cx="1395" cy="522" r="7"/></g><g id="n300"><circle cx="1405" cy="553" r="7"/></g>
<g id="n301"><circle cx="1268" cy="603" r="7"/></g><g id="n302"><circle cx="1293" cy="588" r="7"/></g>
<g id="n303"><circle cx="1203" cy="626" r="7"/></g><g id="n304"><circle cx="1219" cy="652" r="7"/></g>
<g id="n305"><circle cx="1333" cy="647" r="7"/></g><g id="n306"><circle cx="1352" cy="667" r="7"/></g>
<g id="n307"><circle cx="1412" cy="632" r="7"/></g><g id="n308"><circle cx="1415" cy="661" r="7"/></g>
<g id="n309"><circle cx="1098" cy="657" r="7"/></g><g id="n310"><circle cx="1127" cy="678" r="7"/></g><g id="n311"><circle cx="1148" cy="657" r="7"/></g><g id="n312"><circle cx="1139" cy="701" r="7"/></g>
<g id="n313"><circle cx="1272" cy="674" r="7"/></g><g id="n314"><circle cx="1293" cy="694" r="7"/></g>
<g id="n315"><circle cx="1208" cy="733" r="7"/></g><g id="n316"><circle cx="1230" cy="758" r="7"/></g><g id="n317"><circle cx="1262" cy="747" r="7"/></g><g id="n318"><circle cx="1219" cy="788" r="7"/></g>
<g id="n319"><circle cx="1373" cy="736" r="7"/></g><g id="n320"><circle cx="1392" cy="727" r="7"/></g><g id="n321"><circle cx="1411" cy="736" r="7"/></g><g id="n322"><circle cx="1391" cy="751" r="7"/></g>
<g id="n323"><circle cx="1314" cy="771" r="7"/></g><g id="n324"><circle cx="1335" cy="791" r="7"/></g>
<g id="n325"><circle cx="1407" cy="818" r="7"/></g><g id="n326"><circle cx="1398" cy="845" r="7"/></g>
<g id="n327"><circle cx="1080" cy="779" r="7"/></g><g id="n328"><circle cx="1099" cy="778" r="7"/></g><g id="n329"><circle cx="1123" cy="777" r="7"/></g><g id="n330"><circle cx="1105" cy="798" r="7"/></g>
<g id="n331"><circle cx="1284" cy="837" r="7"/></g><g id="n332"><circle cx="1306" cy="842" r="7"/></g>
<g id="n333"><circle cx="1344" cy="877" r="7"/></g><g id="n334"><circle cx="1349" cy="890" r="7"/></g>
<g id="n335"><circle cx="1116" cy="877" r="7"/></g><g id="n336"><circle cx="1140" cy="858" r="7"/></g>
<g id="n337"><circle cx="1168" cy="919" r="7"/></g><g id="n338"><circle cx="1198" cy="907" r="7"/></g><g id="n339"><circle cx="1214" cy="883" r="7"/></g><g id="n340"><circle cx="1223" cy="851" r="7"/></g>
<g id="n341"><circle cx="1258" cy="940" r="7"/></g><g id="n342"><circle cx="1274" cy="922" r="7"/></g>
<g id="n343"><circle cx="1379" cy="944" r="7"/></g><g id="n344"><circle cx="1393" cy="916" r="7"/></g>
<g id="n345"><circle cx="847" cy="920" r="7"/></g><g id="n346"><circle cx="886" cy="914" r="7"/></g><g id="n347"><circle cx="870" cy="936" r="7"/></g><g id="n348"><circle cx="838" cy="954" r="7"/></g><g id="n349"><circle cx="863" cy="953" r="7"/></g><g id="n350"><circle cx="894" cy="954" r="7"/></g><g id="n351"><circle cx="868" cy="974" r="7"/></g>
<g id="n352"><circle cx="977" cy="942" r="7"/></g><g id="n353"><circle cx="970" cy="976" r="7"/></g>
<g id="n354"><circle cx="1026" cy="991" r="7"/></g><g id="n355"><circle cx="1048" cy="970" r="7"/></g>
<g id="n356"><circle cx="1132" cy="962" r="7"/></g><g id="n357"><circle cx="1160" cy="978" r="7"/></g>
<g id="n358"><circle cx="1326" cy="962" r="7"/></g><g id="n359"><circle cx="1340" cy="983" r="7"/></g>
<g id="n360"><circle cx="1236" cy="1002" r="7"/></g><g id="n361"><circle cx="1258" cy="1015" r="7"/></g><g id="n362"><circle cx="1289" cy="1010" r="7"/></g>
<g id="n363"><circle cx="1060" cy="1035" r="7"/></g><g id="n364"><circle cx="1093" cy="1030" r="7"/></g><g id="n365"><circle cx="1119" cy="1026" r="7"/></g>
<g id="n366"><circle cx="1199" cy="1045" r="7"/></g><g id="n367"><circle cx="1213" cy="1074" r="7"/></g>
<g id="n368"><circle cx="1132" cy="1093" r="7"/></g><g id="n369"><circle cx="1153" cy="1083" r="7"/></g>
<g id="n370"><circle cx="1316" cy="1054" r="7"/></g><g id="n371"><circle cx="1339" cy="1063" r="7"/></g>
<g id="n372"><circle cx="1265" cy="1096" r="7"/></g><g id="n373"><circle cx="1281" cy="1119" r="7"/></g>
<g id="n374"><circle cx="1004" cy="1078" r="7"/></g><g id="n375"><circle cx="1030" cy="1098" r="7"/></g><g id="n376"><circle cx="1053" cy="1102" r="7"/></g>
<g id="n377"><circle cx="892" cy="1057" r="7"/></g><g id="n378"><circle cx="914" cy="1066" r="7"/></g><g id="n379"><circle cx="941" cy="1063" r="7"/></g>
<g id="n380"><circle cx="1081" cy="1162" r="7"/></g><g id="n381"><circle cx="1064" cy="1185" r="7"/></g><g id="n382"><circle cx="1029" cy="1182" r="7"/></g><g id="n383"><circle cx="1079" cy="1209" r="7"/></g>
<g id="n384"><circle cx="834" cy="1126" r="7"/></g><g id="n385"><circle cx="837" cy="1160" r="7"/></g>
<g id="n386"><circle cx="891" cy="1138" r="7"/></g><g id="n387"><circle cx="890" cy="1169" r="7"/></g>
<g id="n388"><circle cx="956" cy="1138" r="7"/></g><g id="n389"><circle cx="968" cy="1154" r="7"/></g>
<g id="n390"><circle cx="758" cy="1175" r="7"/></g><g id="n391"><circle cx="783" cy="1173" r="7"/></g><g id="n392"><circle cx="773" cy="1203" r="7"/></g>
<g id="n393"><circle cx="929" cy="1210" r="7"/></g><g id="n394"><circle cx="953" cy="1227" r="7"/></g>
<g id="n395"><circle cx="853" cy="1249" r="7"/></g><g id="n396"><circle cx="882" cy="1251" r="7"/></g>
<g id="n397"><circle cx="767" cy="1272" r="7"/></g><g id="n398"><circle cx="797" cy="1264" r="7"/></g>
<g id="n399"><circle cx="1021" cy="1251" r="7"/></g><g id="n400"><circle cx="1011" cy="1269" r="7"/></g><g id="n401"><circle cx="1033" cy="1279" r="7"/></g>
<g id="n402"><circle cx="1104" cy="1270" r="7"/></g><g id="n403"><circle cx="1093" cy="1291" r="7"/></g>
<g id="n404"><circle cx="943" cy="1293" r="7"/></g><g id="n405"><circle cx="969" cy="1313" r="7"/></g><g id="n406"><circle cx="997" cy="1332" r="7"/></g>
<g id="n407"><circle cx="874" cy="1308" r="7"/></g><g id="n408"><circle cx="876" cy="1332" r="7"/></g>
<g id="n409"><circle cx="798" cy="1332" r="7"/></g><g id="n410"><circle cx="812" cy="1354" r="7"/></g><g id="n411"><circle cx="831" cy="1368" r="7"/></g><g id="n412"><circle cx="796" cy="1372" r="7"/></g>
<g id="n413"><circle cx="924" cy="1361" r="7"/></g><g id="n414"><circle cx="939" cy="1364" r="7"/></g>
<g id="n415"><circle cx="1164" cy="1242" r="7"/></g><g id="n416"><circle cx="1189" cy="1225" r="7"/></g>
<g id="n417"><circle cx="1230" cy="1147" r="7"/></g><g id="n418"><circle cx="1234" cy="1172" r="7"/></g>
<g id="n419"><circle cx="1144" cy="1190" r="7"/></g><g id="n420"><circle cx="1159" cy="1167" r="7"/></g><g id="n421"><circle cx="1169" cy="1143" r="7"/></g>
<g id="n422"><circle cx="103" cy="944" r="7"/></g><g id="n423"><circle cx="93" cy="977" r="7"/></g><g id="n424"><circle cx="74" cy="982" r="7"/></g><g id="n425"><circle cx="84" cy="991" r="7"/></g><g id="n426"><circle cx="90" cy="1003" r="7"/></g>
<g id="n427"><circle cx="180" cy="946" r="7"/></g><g id="n428"><circle cx="204" cy="945" r="7"/></g><g id="n429"><circle cx="184" cy="958" r="7"/></g><g id="n430"><circle cx="198" cy="957" r="7"/></g><g id="n431"><circle cx="172" cy="970" r="7"/></g><g id="n432"><circle cx="190" cy="974" r="7"/></g><g id="n433"><circle cx="206" cy="964" r="7"/></g>
<g id="n434"><circle cx="327" cy="988" r="7"/></g><g id="n435"><circle cx="350" cy="986" r="7"/></g><g id="n436"><circle cx="346" cy="1018" r="7"/></g><g id="n437"><circle cx="325" cy="1044" r="7"/></g><g id="n438"><circle cx="351" cy="1049" r="7"/></g><g id="n439"><circle cx="372" cy="1047" r="7"/></g><g id="n440"><circle cx="334" cy="1084" r="7"/></g><g id="n441"><circle cx="301" cy="1101" r="7"/></g><g id="n442"><circle cx="319" cy="1113" r="7"/></g><g id="n443"><circle cx="337" cy="1124" r="7"/></g><g id="n444"><circle cx="297" cy="1121" r="7"/></g><g id="n445"><circle cx="321" cy="1126" r="7"/></g><g id="n446"><circle cx="300" cy="1139" r="7"/></g><g id="n447"><circle cx="317" cy="1149" r="7"/></g><g id="n448"><circle cx="343" cy="1143" r="7"/></g>
<g id="n449"><circle cx="183" cy="1073" r="7"/></g><g id="n450"><circle cx="205" cy="1078" r="7"/></g><g id="n451"><circle cx="186" cy="1094" r="7"/></g><g id="n452"><circle cx="210" cy="1098" r="7"/></g><g id="n453"><circle cx="177" cy="1111" r="7"/></g><g id="n454"><circle cx="200" cy="1112" r="7"/></g>
<g id="n455"><circle cx="360" cy="1225" r="7"/></g><g id="n456"><circle cx="349" cy="1243" r="7"/></g><g id="n457"><circle cx="364" cy="1253" r="7"/></g><g id="n458"><circle cx="380" cy="1252" r="7"/></g><g id="n459"><circle cx="347" cy="1263" r="7"/></g><g id="n460"><circle cx="363" cy="1278" r="7"/></g>
<g id="n461"><circle cx="511" cy="1023" r="7"/></g><g id="n462"><circle cx="539" cy="1012" r="7"/></g><g id="n463"><circle cx="566" cy="1014" r="7"/></g><g id="n464"><circle cx="564" cy="1046" r="7"/></g><g id="n465"><circle cx="597" cy="1011" r="7"/></g><g id="n466"><circle cx="627" cy="977" r="7"/></g><g id="n467"><circle cx="605" cy="1049" r="7"/></g><g id="n468"><circle cx="629" cy="1080" r="7"/></g><g id="n469"><circle cx="599" cy="1076" r="7"/></g><g id="n470"><circle cx="564" cy="1088" r="7"/></g><g id="n471"><circle cx="541" cy="1066" r="7"/></g><g id="n472"><circle cx="517" cy="1077" r="7"/></g>
<g id="n473"><circle cx="450" cy="1066" r="7"/></g><g id="n474"><circle cx="448" cy="1099" r="7"/></g>
<g id="n475"><circle cx="452" cy="1177" r="7"/></g><g id="n476"><circle cx="485" cy="1171" r="7"/></g><g id="n477"><circle cx="519" cy="1168" r="7"/></g>
<g id="n478"><circle cx="600" cy="1181" r="7"/></g><g id="n479"><circle cx="626" cy="1172" r="7"/></g>
<g id="n480"><circle cx="689" cy="1198" r="7"/></g><g id="n481"><circle cx="704" cy="1227" r="7"/></g>
<g id="n482"><circle cx="496" cy="1239" r="7"/></g><g id="n483"><circle cx="474" cy="1264" r="7"/></g><g id="n484"><circle cx="501" cy="1268" r="7"/></g><g id="n485"><circle cx="526" cy="1254" r="7"/></g><g id="n486"><circle cx="557" cy="1239" r="7"/></g>
<g id="n487"><circle cx="622" cy="1246" r="7"/></g><g id="n488"><circle cx="644" cy="1244" r="7"/></g>
<g id="n489"><circle cx="437" cy="1316" r="7"/></g><g id="n490"><circle cx="464" cy="1330" r="7"/></g>
<g id="n491"><circle cx="576" cy="1313" r="7"/></g><g id="n492"><circle cx="604" cy="1308" r="7"/></g>
<g id="n493"><circle cx="526" cy="1343" r="7"/></g><g id="n494"><circle cx="529" cy="1363" r="7"/></g>
<g id="n495"><circle cx="604" cy="1374" r="7"/></g><g id="n496"><circle cx="629" cy="1381" r="7"/></g>
<g id="n497"><circle cx="731" cy="1378" r="7"/></g><g id="n498"><circle cx="726" cy="1395" r="7"/></g>
<g id="n499"><circle cx="680" cy="1303" r="7"/></g><g id="n500"><circle cx="704" cy="1313" r="7"/></g><g id="n501"><circle cx="667" cy="1329" r="7"/></g><g id="n502"><circle cx="694" cy="1333" r="7"/></g>
<g id="n503"><circle cx="733" cy="1053" r="7"/></g><g id="n504"><circle cx="730" cy="1083" r="7"/></g><g id="n505"><circle cx="710" cy="1103" r="7"/></g><g id="n506"><circle cx="745" cy="1106" r="7"/></g><g id="n507"><circle cx="769" cy="1089" r="7"/></g>
<g id="n508"><circle cx="715" cy="986" r="7"/></g><g id="n509"><circle cx="748" cy="992" r="7"/></g>
</g>
<g id="labels">
<text x="748" y="41">1</text><text x="669" y="43">1</text><text x="599" y="63">1</text>
<text x="521" y="76">1</text><text x="521" y="91">1</text><text x="535" y="88">2</text>
<text x="816" y="54">1</text><text x="795" y="83">1</text><text x="862" y="90">1</text><text x="932" y="62">1</text>
<text x="913" y="147">1</text><text x="933" y="129">1</text><text x="1014" y="108">1</text><text x="1072" y="140">2</text>
<text x="714" y="110">1</text><text x="642" y="123">1</text>
<text x="455" y="127">1</text><text x="466" y="125">3</text><text x="459" y="141">2</text>
<text x="381" y="136">2</text><text x="314" y="182">2</text><text x="566" y="164">1</text><text x="500" y="206">2</text>
<text x="651" y="200">1</text><text x="696" y="200">1</text><text x="677" y="183">2</text>
<text x="823" y="170">1</text><text x="806" y="184">2</text><text x="836" y="196">2</text>
<text x="957" y="188">4</text>
<text x="1004" y="224">1</text><text x="1021" y="218">2</text><text x="1009" y="238">1</text>
<text x="1080" y="218">1</text><text x="1096" y="244">1</text>
<text x="1156" y="183">1</text><text x="1162" y="204">1</text>
<text x="1201" y="254">1</text><text x="1256" y="286">1</text>
<text x="1166" y="334">1</text><text x="1143" y="358">2</text><text x="1180" y="360">1</text>
<text x="1266" y="344">2</text><text x="1318" y="380">1</text>
<text x="1047" y="447">1</text><text x="1077" y="455">2</text><text x="1086" y="455">1</text><text x="1099" y="437">1</text><text x="1120" y="446">1</text><text x="1128" y="446">2</text><text x="1123" y="470">1</text><text x="1131" y="470">1</text><text x="1101" y="472">3</text>
<text x="1228" y="431">1</text><text x="1259" y="443">1</text><text x="1234" y="462">1</text>
<text x="1338" y="445">2</text><text x="1358" y="459">2</text>
<text x="244" y="243">1</text><text x="336" y="245">1</text>
<text x="416" y="213">1</text><text x="404" y="217">2</text><text x="415" y="229">2</text><text x="421" y="243">1</text><text x="408" y="245">2</text>
<text x="270" y="301">6</text><text x="283" y="314">6</text>
<text x="184" y="322">2</text><text x="202" y="335">2</text>
<text x="340" y="350">2</text><text x="401" y="335">2</text><text x="486" y="304">1</text>
<text x="133" y="389">2</text><text x="149" y="412">2</text>
<text x="221" y="403">2</text><text x="253" y="403">2</text>
<text x="341" y="441">3</text><text x="368" y="437">2</text><text x="139" y="469">2</text>
<text x="233" y="479">2</text><text x="256" y="482">2</text><text x="231" y="500">2</text><text x="253" y="503">4</text>
<text x="104" y="519">4</text><text x="108" y="534">1</text><text x="119" y="525">3</text><text x="103" y="545">1</text><text x="91" y="537">4</text>
<text x="437" y="472">2</text><text x="435" y="487">1</text><text x="450" y="480">1</text>
<text x="627" y="511">4</text>
<text x="727" y="469">1</text><text x="710" y="482">1</text><text x="741" y="486">1</text><text x="725" y="501">2</text>
<text x="582" y="413">1</text><text x="564" y="445">1</text><text x="601" y="438">1</text>
<text x="455" y="386">1</text><text x="525" y="375">2</text>
<text x="679" y="343">1</text><text x="664" y="371">1</text>
<text x="616" y="277">2</text><text x="622" y="288">1</text><text x="608" y="295">2</text>
<text x="549" y="258">1</text><text x="712" y="271">3</text><text x="783" y="254">3</text>
<text x="855" y="303">1</text><text x="832" y="326">1</text><text x="864" y="333">1</text>
<text x="917" y="259">1</text><text x="936" y="293">1</text><text x="948" y="322">4</text><text x="967" y="332">1</text>
<text x="1090" y="305">1</text><text x="1023" y="365">1</text>
<text x="832" y="421">2</text><text x="843" y="423">1</text><text x="854" y="427">2</text><text x="864" y="433">2</text><text x="849" y="439">1</text><text x="832" y="448">2</text><text x="843" y="455">1</text>
<text x="313" y="543">2</text><text x="282" y="563">2</text><text x="310" y="569">2</text>
<text x="393" y="586">2</text><text x="376" y="610">2</text>
<text x="190" y="601">1</text><text x="166" y="609">2</text><text x="176" y="630">1</text>
<text x="81" y="639">2</text><text x="63" y="648">2</text><text x="101" y="659">1</text><text x="65" y="672">2</text><text x="88" y="678">2</text>
<text x="251" y="654">1</text><text x="267" y="677">1</text><text x="226" y="693">1</text><text x="197" y="721">1</text><text x="211" y="724">1</text><text x="196" y="738">4</text><text x="218" y="756">1</text><text x="256" y="764">1</text><text x="247" y="791">1</text>
<text x="60" y="769">3</text><text x="81" y="770">1</text><text x="140" y="799">2</text><text x="85" y="851">1</text><text x="343" y="786">1</text>
<text x="193" y="854">2</text><text x="190" y="870">2</text><text x="207" y="863">1</text><text x="222" y="878">1</text><text x="225" y="865">1</text>
<text x="302" y="871">1</text>
<text x="501" y="560">5</text><text x="517" y="567">5</text><text x="494" y="576">5</text><text x="492" y="589">2</text><text x="520" y="578">1</text><text x="508" y="602">4</text>
<text x="638" y="598">1</text><text x="610" y="622">2</text><text x="640" y="635">1</text>
<text x="371" y="689">2</text><text x="387" y="694">3</text><text x="374" y="702">3</text>
<text x="585" y="717">5</text><text x="591" y="727">5</text><text x="585" y="735">5</text>
<text x="463" y="770">3</text><text x="455" y="796">1</text><text x="473" y="779">1</text><text x="491" y="786">1</text><text x="465" y="809">1</text><text x="483" y="812">1</text><text x="460" y="841">3</text><text x="450" y="850">1</text><text x="445" y="872">1</text><text x="448" y="899">1</text><text x="422" y="893">3</text><text x="375" y="901">1</text><text x="402" y="919">4</text>
<text x="561" y="905">1</text>
<text x="637" y="828">1</text><text x="651" y="821">5</text><text x="655" y="836">1</text><text x="629" y="842">1</text><text x="636" y="854">2</text><text x="646" y="842">1</text>
<text x="745" y="878">1</text><text x="734" y="889">2</text><text x="753" y="886">2</text><text x="747" y="896">3</text><text x="729" y="880">5</text><text x="754" y="900">2</text>
<text x="741" y="623">1</text><text x="760" y="638">2</text><text x="745" y="659">2</text><text x="725" y="649">2</text>
<text x="937" y="500">1</text><text x="950" y="498">1</text><text x="937" y="516">2</text><text x="957" y="522">3</text><text x="942" y="524">1</text><text x="916" y="526">4</text><text x="879" y="540">2</text><text x="849" y="555">2</text>
<text x="901" y="627">1</text><text x="938" y="619">2</text>
<text x="818" y="723">1</text><text x="820" y="756">2</text><text x="808" y="778">2</text><text x="767" y="783">1</text><text x="838" y="791">1</text>
<text x="907" y="723">2</text><text x="918" y="752">1</text>
<text x="1002" y="678">1</text><text x="1018" y="697">1</text><text x="994" y="708">2</text>
<text x="1019" y="816">1</text><text x="955" y="843">1</text><text x="1039" y="903">1</text>
<text x="1067" y="557">1</text><text x="1073" y="583">1</text><text x="1110" y="574">1</text>
<text x="1195" y="556">2</text><text x="1270" y="527">2</text>
<text x="1344" y="550">1</text><text x="1356" y="582">1</text>
<text x="1401" y="538">1</text><text x="1278" y="598">1</text><text x="1212" y="640">1</text><text x="1342" y="657">1</text><text x="1413" y="647">1</text>
<text x="1115" y="672">1</text><text x="1136" y="667">2</text><text x="1132" y="691">3</text>
<text x="1284" y="686">1</text>
<text x="1217" y="744">1</text><text x="1249" y="752">1</text><text x="1224" y="776">1</text>
<text x="1382" y="729">4</text><text x="1402" y="729">4</text><text x="1379" y="746">3</text><text x="1392" y="740">2</text><text x="1402" y="747">2</text>
<text x="1326" y="783">1</text><text x="1402" y="833">1</text>
<text x="1089" y="772">5</text><text x="1111" y="772">5</text><text x="1090" y="791">1</text><text x="1117" y="790">1</text><text x="1102" y="788">4</text>
<text x="1296" y="840">2</text><text x="1342" y="885">4</text><text x="1127" y="870">1</text>
<text x="1185" y="914">1</text><text x="1205" y="894">2</text><text x="1218" y="868">1</text>
<text x="1265" y="931">2</text><text x="1387" y="929">1</text>
<text x="856" y="926">2</text><text x="878" y="925">6</text><text x="851" y="942">2</text><text x="867" y="945">1</text><text x="884" y="944">2</text><text x="867" y="963">4</text><text x="849" y="956">2</text><text x="881" y="956">2</text>
<text x="973" y="958">1</text><text x="1035" y="983">1</text><text x="1143" y="966">1</text><text x="1334" y="973">2</text>
<text x="1248" y="1010">2</text><text x="1271" y="1014">1</text>
<text x="1080" y="1034">1</text><text x="1104" y="1028">2</text>
<text x="1207" y="1062">1</text><text x="1143" y="1089">3</text><text x="1328" y="1060">2</text><text x="1274" y="1111">1</text>
<text x="1015" y="1087">1</text><text x="1042" y="1102">3</text>
<text x="901" y="1061">4</text><text x="929" y="1065">2</text>
<text x="1073" y="1171">2</text><text x="1043" y="1184">1</text><text x="1073" y="1198">2</text>
<text x="836" y="1145">1</text><text x="890" y="1154">1</text><text x="962" y="1147">3</text>
<text x="771" y="1175">3</text><text x="764" y="1189">1</text><text x="778" y="1188">1</text>
<text x="939" y="1220">1</text><text x="864" y="1252">1</text><text x="784" y="1269">1</text>
<text x="1028" y="1263">1</text><text x="1023" y="1277">3</text><text x="1014" y="1259">1</text>
<text x="1098" y="1281">2</text>
<text x="953" y="1303">1</text><text x="986" y="1326">1</text>
<text x="875" y="1320">4</text>
<text x="803" y="1343">4</text><text x="822" y="1362">4</text><text x="803" y="1365">4</text>
<text x="932" y="1365">3</text><text x="1174" y="1237">1</text><text x="1232" y="1160">4</text>
<text x="1150" y="1181">2</text><text x="1164" y="1155">2</text>
<text x="98" y="962">2</text><text x="83" y="976">2</text><text x="76" y="991">4</text><text x="93" y="985">3</text><text x="85" y="999">2</text>
<text x="192" y="943">2</text><text x="179" y="953">3</text><text x="206" y="950">2</text><text x="191" y="957">2</text><text x="176" y="965">2</text><text x="185" y="967">1</text><text x="205" y="960">2</text><text x="181" y="975">2</text><text x="198" y="970">1</text>
<text x="333" y="1000">2</text><text x="348" y="1000">1</text><text x="340" y="985">2</text><text x="333" y="1030">2</text><text x="363" y="1031">1</text><text x="340" y="1049">1</text><text x="350" y="1035">1</text><text x="362" y="1049">2</text><text x="329" y="1064">2</text><text x="345" y="1065">3</text><text x="358" y="1063">1</text><text x="322" y="1094">1</text><text x="327" y="1099">3</text><text x="336" y="1101">1</text><text x="299" y="1111">2</text><text x="311" y="1114">1</text><text x="298" y="1130">1</text><text x="318" y="1131">1</text><text x="308" y="1146">1</text><text x="341" y="1133">2</text><text x="327" y="1138">1</text><text x="328" y="1118">2</text>
<text x="194" y="1072">2</text><text x="183" y="1083">1</text><text x="197" y="1084">4</text><text x="199" y="1098">5</text><text x="180" y="1103">5</text><text x="191" y="1104">4</text><text x="206" y="1106">1</text><text x="188" y="1114">4</text>
<text x="353" y="1233">2</text><text x="363" y="1238">1</text><text x="357" y="1246">4</text><text x="347" y="1253">5</text><text x="355" y="1260">1</text><text x="364" y="1266">3</text><text x="372" y="1253">2</text><text x="353" y="1272">2</text>
<text x="531" y="1032">1</text><text x="548" y="1026">2</text><text x="565" y="1027">3</text><text x="583" y="1026">2</text><text x="609" y="999">1</text><text x="579" y="1044">2</text><text x="577" y="1058">2</text><text x="619" y="1068">1</text><text x="616" y="1081">2</text><text x="564" y="1072">2</text><text x="550" y="1057">2</text><text x="535" y="1067">1</text>
<text x="449" y="1083">1</text>
<text x="465" y="1176">1</text><text x="505" y="1171">1</text>
<text x="611" y="1178">2</text><text x="696" y="1212">1</text>
<text x="483" y="1255">1</text><text x="499" y="1252">1</text><text x="485" y="1268">2</text><text x="515" y="1247">1</text><text x="515" y="1262">2</text><text x="539" y="1251">1</text>
<text x="632" y="1246">4</text><text x="452" y="1324">1</text><text x="588" y="1313">1</text><text x="527" y="1353">1</text><text x="614" y="1378">2</text><text x="728" y="1387">2</text>
<text x="690" y="1308">1</text><text x="672" y="1316">1</text><text x="684" y="1317">1</text><text x="678" y="1333">1</text><text x="700" y="1325">2</text>
<text x="732" y="1068">2</text><text x="718" y="1094">2</text><text x="723" y="1106">1</text><text x="755" y="1087">1</text><text x="758" y="1099">2</text><text x="736" y="1097">2</text>
<text x="735" y="989">1</text>
</g>
</svg>
